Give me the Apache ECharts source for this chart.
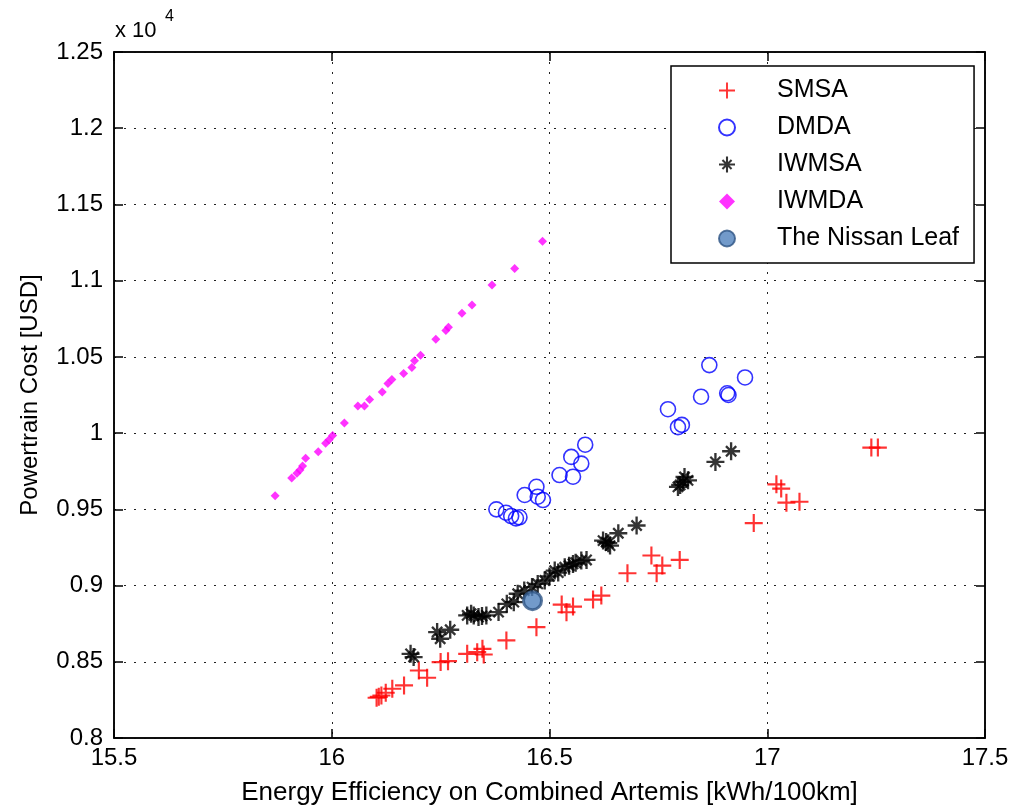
<!DOCTYPE html>
<html>
<head>
<meta charset="utf-8">
<script src="https://cdn.jsdelivr.net/npm/echarts@6/dist/echarts.min.js"></script>
<style>
html,body{margin:0;padding:0;background:#fff;}
#chart{width:1013px;height:812px;}
</style>
</head>
<body>
<div id="chart"></div>
<script>
// ---- data (x: kWh/100km, y: USD) ----
const smsaX = [16.103,16.108,16.114,16.124,16.139,16.166,16.200,16.219,16.250,16.267,16.311,16.334,16.346,16.349,16.401,16.470,16.528,16.539,16.554,16.600,16.619,16.679,16.734,16.746,16.759,16.799,16.969,17.021,17.032,17.044,17.074,17.239,17.254];
const smsaY = [8264,8270,8279,8297,8323,8345,8443,8395,8498,8504,8552,8563,8585,8548,8640,8727,8875,8825,8862,8908,8934,9081,9197,9081,9131,9168,9410,9664,9636,9544,9550,9905,9905];

const dmdaX = [16.378,16.400,16.412,16.423,16.431,16.443,16.470,16.473,16.485,16.523,16.554,16.550,16.573,16.582,16.772,16.795,16.804,16.848,16.867,16.908,16.911,16.949];
const dmdaY = [9500,9478,9456,9441,9448,9594,9648,9583,9561,9725,9714,9844,9800,9924,10157,10039,10054,10239,10446,10261,10250,10365];

const iwmsaX = [16.181,16.188,16.242,16.249,16.272,16.311,16.320,16.326,16.337,16.345,16.355,16.383,16.402,16.418,16.427,16.442,16.460,16.473,16.489,16.500,16.512,16.520,16.535,16.545,16.554,16.560,16.573,16.585,16.623,16.630,16.635,16.639,16.658,16.700,16.795,16.800,16.806,16.810,16.818,16.881,16.917];
const iwmsaY = [8552,8531,8695,8651,8710,8804,8815,8804,8793,8800,8804,8826,8880,8891,8946,8967,8990,9011,9033,9060,9098,9085,9120,9130,9142,9150,9164,9168,9295,9285,9278,9262,9343,9394,9647,9660,9679,9712,9690,9811,9881];

const iwmdaX = [15.870,15.908,15.920,15.927,15.933,15.940,15.969,15.986,15.994,16.002,16.029,16.060,16.075,16.087,16.116,16.129,16.138,16.165,16.184,16.190,16.204,16.239,16.262,16.268,16.299,16.322,16.368,16.420,16.484];
const iwmdaY = [9589,9706,9736,9758,9785,9835,9877,9934,9956,9985,10066,10178,10178,10220,10270,10325,10352,10391,10431,10475,10510,10615,10673,10695,10787,10840,10971,11079,11259];

const leafX = [16.461];
const leafY = [8901];

const seriesNames = ['SMSA','DMDA','IWMSA','IWMDA','The Nissan Leaf'];
const xTicks = {min:15.5, max:17.5, step:0.5};
const yTicks = {min:8000, max:12500, step:500};

// ---- helpers ----
const zip = (xs, ys) => xs.map((x, i) => [x, ys[i]]);
const PLUS = 'path://M8.8,0 L11.2,0 L11.2,8.8 L20,8.8 L20,11.2 L11.2,11.2 L11.2,20 L8.8,20 L8.8,11.2 L0,11.2 L0,8.8 L8.8,8.8 Z';
const STAR = 'path://M0,8.7 L20,8.7 L20,11.3 L0,11.3 Z M8.7,0 L11.3,0 L11.3,20 L8.7,20 Z M3.4,5.2 L5.2,3.4 L16.6,14.8 L14.8,16.6 Z M14.8,3.4 L16.6,5.2 L5.2,16.6 L3.4,14.8 Z M7,7 L13,7 L13,13 L7,13 Z';
const DIAMOND = 'path://M5,0 L10,5 L5,10 L0,5 Z';
const FONT = 'Liberation Sans, Arial, Helvetica, sans-serif';

const chart = echarts.init(document.getElementById('chart'), null, {renderer:'canvas'});

const axisCommon = {
  axisLine:{show:true, onZero:false, lineStyle:{color:'#000', width:1.5}},
  axisTick:{show:true, inside:true, length:9, lineStyle:{color:'#000', width:1.5}},
};

const option = {
  animation:false,
  backgroundColor:'#fff',
  textStyle:{fontFamily:FONT},
  grid:{left:114, top:52, right:28, bottom:74, show:true, borderColor:'#000', borderWidth:1.5, containLabel:false},
  xAxis:[{
    type:'value', min:xTicks.min, max:xTicks.max, interval:xTicks.step, position:'bottom',
    name:'Energy Efficiency on Combined Artemis [kWh/100km]', nameLocation:'middle', nameGap:42,
    nameTextStyle:{fontSize:26, color:'#000', fontFamily:FONT},
    ...axisCommon,
    axisLabel:{color:'#000', fontSize:24, margin:8, fontFamily:FONT, formatter:v=>String(+v.toFixed(1))},
    splitLine:{show:true, lineStyle:{color:'#222', width:1, type:[2,8]}}
  },{
    type:'value', min:xTicks.min, max:xTicks.max, interval:xTicks.step, position:'top',
    ...axisCommon, axisLabel:{show:false}, splitLine:{show:false}
  }],
  yAxis:[{
    type:'value', min:yTicks.min, max:yTicks.max, interval:yTicks.step, position:'left',
    name:'Powertrain Cost [USD]', nameLocation:'middle', nameGap:72,
    nameTextStyle:{fontSize:24, color:'#000', fontFamily:FONT},
    ...axisCommon,
    axisLabel:{color:'#000', fontSize:24, margin:11, fontFamily:FONT, formatter:v=>String(+(v/10000).toFixed(2))},
    splitLine:{show:true, lineStyle:{color:'#222', width:1, type:[2,8]}}
  },{
    type:'value', min:yTicks.min, max:yTicks.max, interval:yTicks.step, position:'right',
    ...axisCommon, axisLabel:{show:false}, splitLine:{show:false}
  }],
  legend:{
    orient:'vertical', left:671, top:66,
    padding:[12,15,12,47], itemGap:12, itemWidth:18, itemHeight:16,
    backgroundColor:'#fff', borderColor:'#000', borderWidth:1.5, borderRadius:0,
    textStyle:{fontSize:25, color:'#000', fontFamily:FONT, padding:[0,0,0,36]},
    data:[
      {name:seriesNames[0], icon:PLUS},
      {name:seriesNames[1]},
      {name:seriesNames[2], icon:STAR},
      {name:seriesNames[3], icon:DIAMOND},
      {name:seriesNames[4]}
    ]
  },
  graphic:[
    {type:'text', left:115, top:20, style:{text:'x 10', fontSize:22, fill:'#000', fontFamily:FONT}},
    {type:'text', left:165, top:9, style:{text:'4', fontSize:16, fill:'#000', fontFamily:FONT}}
  ],
  series:[
    {name:seriesNames[0], type:'scatter', data:zip(smsaX, smsaY), symbol:PLUS, symbolSize:18,
     itemStyle:{color:'#ff0000'}, z:3},
    {name:seriesNames[1], type:'scatter', data:zip(dmdaX, dmdaY), symbol:'circle', symbolSize:15,
     itemStyle:{color:'rgba(0,0,0,0)', borderColor:'#0000ff', borderWidth:1.6}, z:3},
    {name:seriesNames[2], type:'scatter', data:zip(iwmsaX, iwmsaY), symbol:STAR, symbolSize:18,
     itemStyle:{color:'#000'}, z:3},
    {name:seriesNames[3], type:'scatter', data:zip(iwmdaX, iwmdaY), symbol:DIAMOND, symbolSize:9,
     symbolKeepAspect:true, itemStyle:{color:'#ff00ff'}, z:3},
    {name:seriesNames[4], type:'scatter', data:zip(leafX, leafY), symbol:'circle', symbolSize:18,
     itemStyle:{color:'#4f81bd', borderColor:'#2f5584', borderWidth:3}, z:5}
  ]
};
chart.setOption(option);
</script>
</body>
</html>
